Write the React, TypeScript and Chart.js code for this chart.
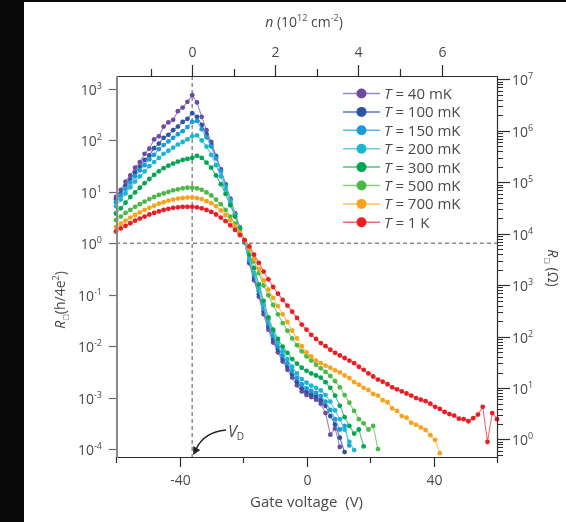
import React, { useEffect, useRef } from "react";
import { Chart, registerables } from "chart.js";

Chart.register(...registerables);

// Gate voltage sampling (V)
const gateVoltage = [
  -60, -58.5, -57, -55.5, -54, -52.5, -51, -49.5, -48, -46.5, -45, -43.5, -42, -40.5, -39, -37.5,
  -36, -34.5, -33, -31.5, -30, -28.5, -27, -25.5, -24, -22.5, -21, -19.5, -18, -16.5, -15, -13.5,
  -12, -10.5, -9, -7.5, -6, -4.5, -3, -1.5, 0, 1.5, 3, 4.5, 6, 7.5, 9, 10.5, 12, 13.5, 15, 16.5,
  18, 19.5, 21, 22.5, 24, 25.5, 27, 28.5, 30, 31.5, 33, 34.5, 36, 37.5, 39, 40.5, 42, 43.5, 45,
  46.5, 48, 49.5, 51, 52.5, 54, 55.5, 57, 58.5, 60,
];

// log10 of R (h/4e^2), aligned with gateVoltage
const logR40mK = [
  0.9, 1.04, 1.2, 1.32, 1.47, 1.58, 1.74, 1.84, 2.02, 2.08, 2.27, 2.35, 2.4, 2.57, 2.64, 2.75,
  2.88, 2.74, 2.46, 2.2, 1.97, 1.7, 1.44, 1.15, 0.87, 0.58, 0.31, 0.02, -0.39, -0.72, -1.04, -1.38,
  -1.68, -1.93, -2.12, -2.3, -2.46, -2.61, -2.76, -2.88, -2.95, -2.99, -3.04, -3.12, -3.3, -3.72,
  -3.6, -3.96,
];
const logR100mK = [
  0.85, 0.97, 1.12, 1.24, 1.38, 1.49, 1.62, 1.71, 1.85, 1.94, 2.05, 2.11, 2.2, 2.27, 2.36, 2.42,
  2.53, 2.46, 2.3, 2.12, 1.92, 1.68, 1.42, 1.13, 0.85, 0.56, 0.3, 0.02, -0.36, -0.67, -0.99, -1.33,
  -1.62, -1.87, -2.07, -2.25, -2.4, -2.55, -2.7, -2.82, -2.89, -2.94, -2.98, -3.05, -3.16, -3.36,
  -3.52, -3.78, -4.06,
];
const logR150mK = [
  0.8, 0.93, 1.06, 1.18, 1.3, 1.42, 1.52, 1.63, 1.72, 1.83, 1.91, 1.98, 2.05, 2.12, 2.18, 2.26,
  2.36, 2.38, 2.22, 2.06, 1.88, 1.65, 1.4, 1.12, 0.84, 0.55, 0.3, 0.03, -0.33, -0.62, -0.93, -1.27,
  -1.56, -1.8, -2.0, -2.18, -2.33, -2.48, -2.62, -2.74, -2.82, -2.87, -2.91, -2.97, -3.08, -3.24,
  -3.42, -3.62, -3.55, -3.93,
];
const logR200mK = [
  0.72, 0.85, 0.97, 1.09, 1.2, 1.3, 1.4, 1.5, 1.58, 1.66, 1.74, 1.8, 1.86, 1.92, 1.97, 2.02,
  2.08, 2.1, 2.0, 1.88, 1.72, 1.52, 1.3, 1.05, 0.8, 0.53, 0.28, 0.03, -0.3, -0.58, -0.88, -1.2,
  -1.48, -1.72, -1.92, -2.1, -2.25, -2.4, -2.53, -2.64, -2.71, -2.77, -2.81, -2.86, -2.95, -3.08,
  -3.25, -3.42, -3.62, -3.86, -4.02,
];
const logR300mK = [
  0.58, 0.68, 0.79, 0.9, 0.99, 1.08, 1.17, 1.25, 1.33, 1.4, 1.46, 1.51, 1.55, 1.59, 1.62, 1.64,
  1.66, 1.7, 1.66, 1.57, 1.47, 1.32, 1.15, 0.96, 0.74, 0.52, 0.28, 0.04, -0.22, -0.48, -0.8, -1.12,
  -1.44, -1.68, -1.86, -2.01, -2.13, -2.25, -2.34, -2.42, -2.48, -2.53, -2.57, -2.61, -2.7, -2.81,
  -2.96, -3.16, -3.38, -3.55, -3.7, -3.62, -3.95,
];
const logR500mK = [
  0.45, 0.52, 0.59, 0.65, 0.71, 0.76, 0.81, 0.86, 0.9, 0.94, 0.97, 1.0, 1.03, 1.05, 1.07, 1.08,
  1.08, 1.07, 1.04, 0.99, 0.93, 0.85, 0.76, 0.65, 0.52, 0.38, 0.22, 0.06, -0.12, -0.35, -0.58, -0.82,
  -1.01, -1.2, -1.38, -1.55, -1.7, -1.85, -1.98, -2.1, -2.2, -2.28, -2.36, -2.43, -2.5, -2.58,
  -2.68, -2.8, -2.95, -3.1, -3.26, -3.42, -3.5, -3.62, -3.55, -4.0,
];
const logR700mK = [
  0.32, 0.38, 0.44, 0.5, 0.55, 0.6, 0.65, 0.69, 0.73, 0.77, 0.8, 0.83, 0.85, 0.87, 0.88, 0.89,
  0.89, 0.88, 0.86, 0.82, 0.78, 0.72, 0.64, 0.55, 0.45, 0.33, 0.2, 0.06, -0.1, -0.3, -0.5, -0.72,
  -0.9, -1.06, -1.22, -1.38, -1.53, -1.7, -1.85, -2.0, -2.12, -2.2, -2.28, -2.33, -2.38, -2.42,
  -2.47, -2.51, -2.57, -2.62, -2.7, -2.75, -2.81, -2.85, -2.93, -2.96, -3.05, -3.09, -3.21, -3.26,
  -3.36, -3.39, -3.49, -3.53, -3.58, -3.63, -3.73, -3.82, -4.08,
];
const logR1K = [
  0.23, 0.29, 0.34, 0.39, 0.44, 0.48, 0.52, 0.56, 0.59, 0.62, 0.65, 0.67, 0.69, 0.7, 0.71, 0.71,
  0.71, 0.7, 0.68, 0.65, 0.61, 0.56, 0.5, 0.43, 0.35, 0.26, 0.16, 0.06, -0.06, -0.22, -0.38, -0.55,
  -0.7, -0.85, -0.98, -1.1, -1.21, -1.33, -1.45, -1.58, -1.68, -1.78, -1.86, -1.94, -2.0, -2.07,
  -2.13, -2.18, -2.23, -2.28, -2.33, -2.4, -2.46, -2.53, -2.59, -2.65, -2.69, -2.74, -2.8, -2.84,
  -2.88, -2.92, -2.96, -3.01, -3.04, -3.07, -3.12, -3.18, -3.22, -3.28, -3.32, -3.35, -3.41, -3.42,
  -3.46, -3.4, -3.33, -3.18, -3.86, -3.3, -3.42,
];

const seriesLabels = ["40 mK", "100 mK", "150 mK", "200 mK", "300 mK", "500 mK", "700 mK", "1 K"];
const seriesColors = ["#6b4ca0", "#2f52a2", "#1b9bd8", "#1cb6d0", "#00a651", "#4cb848", "#f8a31c", "#ec1c24"];
const seriesLineColors = ["#9c86c4", "#5a77bb", "#5cb9e6", "#62cde0", "#4cc27f", "#86cf7f", "#fbc065", "#f26a70"];
const seriesValues = [logR40mK, logR100mK, logR150mK, logR200mK, logR300mK, logR500mK, logR700mK, logR1K];

// axes
const gateMin = -60;
const gateMax = 60;
const logRMin = -4.15;
const logRMax = 3.253;
const leftTickExponents = [3, 2, 1, 0, -1, -2, -3, -4];
const rightTickExponents = [0, 1, 2, 3, 4, 5, 6, 7];
const bottomMajorTicks = [-40, 0, 40];
const bottomMinorTicks = [-60, -20, 20, 60];
const topMajorTicks = [0, 2, 4, 6];
const topMinorTicks = [-1, 1, 3, 5];
const diracVoltage = -36; // V_D
const densityPerVolt = 0.0764; // 10^12 cm^-2 per V
const ohmPerQuantum = 6453; // h/4e^2 in ohm

const FONT = '"Open Sans", "DejaVu Sans", sans-serif';
const TEXT = "#4a4a4a";

type Part = { t: string; size: number; italic?: boolean; dy?: number };

function drawRich(ctx: CanvasRenderingContext2D, parts: Part[], x: number, y: number, align: "left" | "center" | "right", color = TEXT) {
  const widths: number[] = [];
  let total = 0;
  for (const p of parts) {
    ctx.font = `${p.italic ? "italic " : ""}${p.size}px ${FONT}`;
    const w = ctx.measureText(p.t).width;
    widths.push(w);
    total += w;
  }
  let cx = align === "left" ? x : align === "center" ? x - total / 2 : x - total;
  ctx.fillStyle = color;
  ctx.textAlign = "left";
  ctx.textBaseline = "alphabetic";
  parts.forEach((p, i) => {
    ctx.font = `${p.italic ? "italic " : ""}${p.size}px ${FONT}`;
    ctx.fillText(p.t, cx, y + (p.dy || 0));
    cx += widths[i];
  });
}

function line(ctx: CanvasRenderingContext2D, x1: number, y1: number, x2: number, y2: number) {
  ctx.beginPath();
  ctx.moveTo(x1, y1);
  ctx.lineTo(x2, y2);
  ctx.stroke();
}

const decorPlugin = {
  id: "decor",
  beforeDraw(chart: any) {
    const ctx: CanvasRenderingContext2D = chart.ctx;
    ctx.save();
    ctx.fillStyle = "#ffffff";
    ctx.fillRect(0, 0, chart.width, chart.height);
    ctx.fillStyle = "#0a0a0a";
    ctx.fillRect(0, 0, 24, chart.height);
    ctx.fillRect(0, 0, chart.width, 2);
    ctx.restore();
  },
  beforeDatasetsDraw(chart: any) {
    const ctx: CanvasRenderingContext2D = chart.ctx;
    const { left, right, top, bottom } = chart.chartArea;
    const xs = chart.scales.x;
    const ys = chart.scales.y;
    ctx.save();
    ctx.strokeStyle = "#8c8c8c";
    ctx.lineWidth = 1.5;
    ctx.setLineDash([4, 3]);
    const vx = xs.getPixelForValue(diracVoltage);
    line(ctx, vx, top, vx, bottom);
    const hy = ys.getPixelForValue(1);
    line(ctx, left, hy, right, hy);
    ctx.restore();
  },
  afterDatasetsDraw(chart: any) {
    const ctx: CanvasRenderingContext2D = chart.ctx;
    const { left, right, top, bottom } = chart.chartArea;
    const xs = chart.scales.x;
    const ys = chart.scales.y;
    const xt = chart.scales.xTop;
    const yr = chart.scales.yRight;
    ctx.save();
    ctx.setLineDash([]);

    // frame lines
    ctx.strokeStyle = "#2e2e2e";
    ctx.lineWidth = 1.2;
    line(ctx, left, top + 0.5, right + 0.5, top + 0.5);
    line(ctx, left, bottom + 0.5, right + 0.5, bottom + 0.5);
    line(ctx, right + 0.5, top, right + 0.5, bottom + 1);
    ctx.strokeStyle = "#8a8a8a";
    ctx.lineWidth = 2;
    line(ctx, left + 1, top, left + 1, bottom + 1);

    // bottom ticks
    ctx.strokeStyle = "#2e2e2e";
    ctx.lineWidth = 1.2;
    for (const v of bottomMajorTicks) {
      const px = Math.round(xs.getPixelForValue(v)) + 0.5;
      line(ctx, px, bottom, px, bottom + 10);
      drawRich(ctx, [{ t: String(v), size: 14 }], px, bottom + 28, "center");
    }
    for (const v of bottomMinorTicks) {
      const px = Math.round(xs.getPixelForValue(v)) + 0.5;
      line(ctx, px, bottom, px, bottom + 6);
    }
    drawRich(ctx, [{ t: "Gate voltage  (V)", size: 15 }], xs.getPixelForValue(0), bottom + 50, "center");

    // top ticks
    for (const n of topMajorTicks) {
      const px = Math.round(xt.getPixelForValue(n)) + 0.5;
      line(ctx, px, top, px, top - 11);
      drawRich(ctx, [{ t: String(n), size: 14 }], px, top - 19, "center");
    }
    for (const n of topMinorTicks) {
      const px = Math.round(xt.getPixelForValue(n)) + 0.5;
      line(ctx, px, top, px, top - 7);
    }
    drawRich(
      ctx,
      [
        { t: "n", size: 14, italic: true },
        { t: " (10", size: 14 },
        { t: "12", size: 9, dy: -6 },
        { t: " cm", size: 14 },
        { t: "-2", size: 9, dy: -6 },
        { t: ")", size: 14 },
      ],
      304,
      27,
      "center"
    );

    // left ticks
    ctx.strokeStyle = "#6a6a6a";
    for (const e of leftTickExponents) {
      const py = Math.round(ys.getPixelForValue(Math.pow(10, e))) + 0.5;
      line(ctx, left - 7, py, left, py);
      drawRich(ctx, [{ t: "10", size: 14 }, { t: String(e), size: 9, dy: -6 }], left - 14, py + 5, "right");
    }

    // right ticks
    ctx.strokeStyle = "#2e2e2e";
    ctx.lineWidth = 1;
    for (let d = -1; d <= 7; d++) {
      for (let m = 2; m <= 9; m++) {
        const val = m * Math.pow(10, d);
        if (val < yr.min || val > yr.max) continue;
        const py = Math.round(yr.getPixelForValue(val)) + 0.5;
        line(ctx, right, py, right + 6, py);
      }
    }
    ctx.lineWidth = 1.2;
    for (const e of rightTickExponents) {
      const py = Math.round(yr.getPixelForValue(Math.pow(10, e))) + 0.5;
      line(ctx, right, py, right + 13, py);
      drawRich(ctx, [{ t: "10", size: 14 }, { t: String(e), size: 9, dy: -6 }], right + 15, py + 5, "left");
    }

    // axis titles
    ctx.save();
    ctx.translate(60, 300);
    ctx.rotate(-Math.PI / 2);
    drawRich(
      ctx,
      [
        { t: "R", size: 14, italic: true },
        { t: "\u25A1", size: 7, dy: 3 },
        { t: "(h/4e", size: 14 },
        { t: "2", size: 9, dy: -6 },
        { t: ")", size: 14 },
      ],
      0,
      5,
      "center"
    );
    ctx.restore();
    ctx.save();
    ctx.translate(553, 268);
    ctx.rotate(Math.PI / 2);
    drawRich(
      ctx,
      [
        { t: "R", size: 14, italic: true },
        { t: "\u25A1", size: 7, dy: 3 },
        { t: " (\u03A9)", size: 14 },
      ],
      0,
      5,
      "center"
    );
    ctx.restore();

    // legend
    seriesLabels.forEach((lab, i) => {
      const y = 93.5 + i * 18.4;
      ctx.strokeStyle = seriesLineColors[i];
      ctx.lineWidth = 1.5;
      line(ctx, 343, y, 380, y);
      ctx.fillStyle = seriesColors[i];
      ctx.beginPath();
      ctx.arc(361.5, y, 5, 0, Math.PI * 2);
      ctx.fill();
      drawRich(ctx, [{ t: "T", size: 15, italic: true }, { t: " = " + lab, size: 15 }], 384, y + 5.5, "left");
    });

    // V_D annotation
    const vx = xs.getPixelForValue(diracVoltage);
    ctx.strokeStyle = "#222";
    ctx.lineWidth = 1.3;
    ctx.beginPath();
    ctx.moveTo(226, 430);
    ctx.quadraticCurveTo(204, 432, vx + 4, 449);
    ctx.stroke();
    ctx.fillStyle = "#222";
    ctx.beginPath();
    ctx.moveTo(vx + 1, 455);
    ctx.lineTo(vx + 1, 446);
    ctx.lineTo(vx + 8, 450);
    ctx.closePath();
    ctx.fill();
    drawRich(ctx, [{ t: "V", size: 16, italic: true }, { t: "D", size: 10, dy: 3 }], 228, 437, "left");

    ctx.restore();
  },
};

export default function App() {
  const ref = useRef<HTMLCanvasElement>(null);
  useEffect(() => {
    const canvas = ref.current;
    if (!canvas) return;
    const datasets = seriesValues
      .map((vals, i) => ({
        label: "T = " + seriesLabels[i],
        data: vals.map((v, k) => ({ x: gateVoltage[k], y: Math.pow(10, v) })),
        borderColor: seriesLineColors[i],
        backgroundColor: seriesColors[i],
        pointBackgroundColor: seriesColors[i],
        pointBorderWidth: 0,
        pointRadius: 2.4,
        borderWidth: 1.1,
        tension: 0,
        clip: false as any,
        xAxisID: "x",
        yAxisID: "y",
        order: 7 - i,
      }));
    const chart = new Chart(canvas, {
      type: "line",
      data: { datasets },
      options: {
        responsive: false,
        animation: false,
        devicePixelRatio: 1,
        events: [],
        layout: { padding: { left: 116, top: 76, right: 69, bottom: 65 } },
        plugins: { legend: { display: false }, tooltip: { enabled: false } },
        scales: {
          x: { type: "linear", min: gateMin, max: gateMax, display: false },
          y: { type: "logarithmic", min: Math.pow(10, logRMin), max: Math.pow(10, logRMax), display: false },
          xTop: {
            type: "linear",
            axis: "x",
            position: "top",
            min: (gateMin - diracVoltage) * densityPerVolt,
            max: (gateMax - diracVoltage) * densityPerVolt,
            display: false,
          },
          yRight: {
            type: "logarithmic",
            axis: "y",
            position: "right",
            min: Math.pow(10, logRMin) * ohmPerQuantum,
            max: Math.pow(10, logRMax) * ohmPerQuantum,
            display: false,
          },
        } as any,
      },
      plugins: [decorPlugin],
    });
    return () => chart.destroy();
  }, []);
  return (
    <div style={{ position: "fixed", left: 0, top: 0, width: 566, height: 522, background: "#fff" }}>
      <canvas ref={ref} width={566} height={522} style={{ display: "block", width: 566, height: 522 }} />
    </div>
  );
}
